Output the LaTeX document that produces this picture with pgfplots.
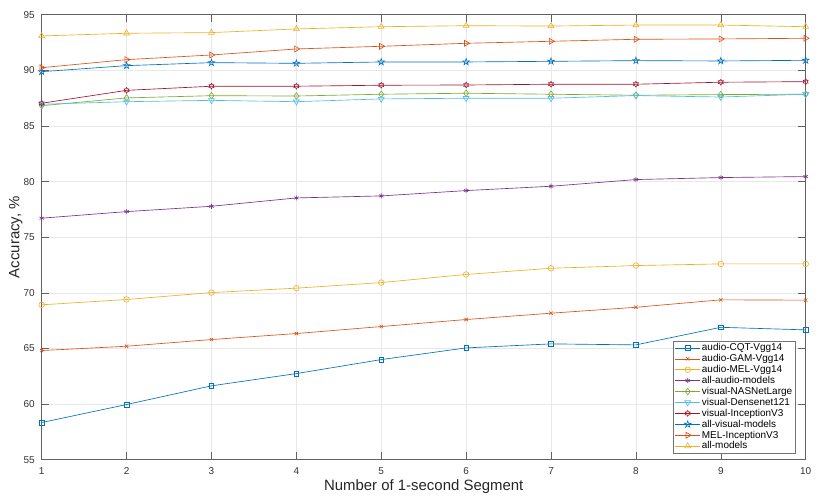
\documentclass[border=0pt]{standalone}
\usepackage{fontspec}
\setmainfont{Liberation Sans}
\usepackage{pgfplots}
\pgfplotsset{compat=1.18}
\usepackage{pgfplotstable}

\definecolor{c1}{rgb}{0,0.447,0.741}
\definecolor{c2}{rgb}{0.85,0.325,0.098}
\definecolor{c3}{rgb}{0.929,0.694,0.125}
\definecolor{c4}{rgb}{0.494,0.184,0.556}
\definecolor{c5}{rgb}{0.466,0.674,0.188}
\definecolor{c6}{rgb}{0.301,0.745,0.933}
\definecolor{c7}{rgb}{0.635,0.078,0.184}

\pgfdeclareplotmark{pentagram}{%
 \pgfpathmoveto{\pgfpointpolar{90}{1.25\pgfplotmarksize}}%
 \pgfpathlineto{\pgfpointpolar{126}{0.48\pgfplotmarksize}}%
 \pgfpathlineto{\pgfpointpolar{162}{1.25\pgfplotmarksize}}%
 \pgfpathlineto{\pgfpointpolar{198}{0.48\pgfplotmarksize}}%
 \pgfpathlineto{\pgfpointpolar{234}{1.25\pgfplotmarksize}}%
 \pgfpathlineto{\pgfpointpolar{270}{0.48\pgfplotmarksize}}%
 \pgfpathlineto{\pgfpointpolar{306}{1.25\pgfplotmarksize}}%
 \pgfpathlineto{\pgfpointpolar{342}{0.48\pgfplotmarksize}}%
 \pgfpathlineto{\pgfpointpolar{18}{1.25\pgfplotmarksize}}%
 \pgfpathlineto{\pgfpointpolar{54}{0.48\pgfplotmarksize}}%
 \pgfpathclose\pgfusepathqstroke}
\pgfdeclareplotmark{hexagram}{%
 \pgfpathmoveto{\pgfpointpolar{90}{1.1\pgfplotmarksize}}%
 \pgfpathlineto{\pgfpointpolar{120}{0.64\pgfplotmarksize}}%
 \pgfpathlineto{\pgfpointpolar{150}{1.1\pgfplotmarksize}}%
 \pgfpathlineto{\pgfpointpolar{180}{0.64\pgfplotmarksize}}%
 \pgfpathlineto{\pgfpointpolar{210}{1.1\pgfplotmarksize}}%
 \pgfpathlineto{\pgfpointpolar{240}{0.64\pgfplotmarksize}}%
 \pgfpathlineto{\pgfpointpolar{270}{1.1\pgfplotmarksize}}%
 \pgfpathlineto{\pgfpointpolar{300}{0.64\pgfplotmarksize}}%
 \pgfpathlineto{\pgfpointpolar{330}{1.1\pgfplotmarksize}}%
 \pgfpathlineto{\pgfpointpolar{0}{0.64\pgfplotmarksize}}%
 \pgfpathlineto{\pgfpointpolar{30}{1.1\pgfplotmarksize}}%
 \pgfpathlineto{\pgfpointpolar{60}{0.64\pgfplotmarksize}}%
 \pgfpathclose\pgfusepathqstroke}

\pgfplotstableread{
x   cqt   gam   mel   allaudio nas   dense inc   allvis melinc allm
1   58.34 64.81 68.92 76.71    86.82 86.95 87.04 89.88  90.24  93.09
2   59.96 65.20 69.40 77.30    87.52 87.18 88.20 90.42  90.96  93.33
3   61.64 65.80 70.02 77.78    87.72 87.30 88.57 90.69  91.38  93.39
4   62.74 66.34 70.42 78.53    87.69 87.18 88.57 90.63  91.92  93.72
5   64.00 66.97 70.92 78.71    87.85 87.43 88.66 90.75  92.16  93.92
6   65.05 67.60 71.65 79.19    87.94 87.49 88.68 90.75  92.43  94.01
7   65.41 68.17 72.21 79.58    87.85 87.49 88.75 90.81  92.61  93.98
8   65.32 68.70 72.45 80.18    87.76 87.73 88.75 90.87  92.79  94.07
9   66.90 69.37 72.60 80.36    87.82 87.60 88.93 90.84  92.82  94.07
10  66.67 69.34 72.60 80.45    87.85 87.85 88.98 90.90  92.88  93.92
}\datatable

\begin{document}
\begin{tikzpicture}
\begin{axis}[
  at={(0,0)}, anchor=south west,
  width=764bp, height=445bp, scale only axis,
  xmin=1, xmax=10, ymin=55, ymax=95,
  xtick={1,2,...,10}, ytick={55,60,...,95},
  grid=major,
  major grid style={black!9, line width=0.5bp},
  axis line style={black!62, line width=0.6bp},
  tick style={black!62, line width=0.6bp},
  major tick length=7.6bp,
  tick align=inside,
  tick pos=both,
  /pgf/number format/assume math mode=true,
  tick label style={font=\fontsize{10}{12}\selectfont, text=black!80},
  yticklabel style={xshift=-3.4bp},
  xticklabel style={yshift=-4bp},
  xlabel={Number of 1-second Segment},
  ylabel={Accuracy, \%},
  every axis x label/.style={at={(axis description cs:0.5,0)}, anchor=base, yshift=-31bp, font=\fontsize{15}{18}\selectfont, text=black!85},
  every axis y label/.style={at={(axis description cs:0,0.5)}, xshift=-22.4bp, rotate=90, anchor=base, font=\fontsize{15}{18}\selectfont, text=black!85},
  legend cell align=left,
  legend style={at={(0.986,0.0144)}, anchor=south east,
    font=\fontsize{10}{11}\selectfont, draw=black!55, fill=white,
    inner sep=1.2bp, row sep=-0.6bp, nodes={inner sep=1.4bp}},
  legend image code/.code={\draw[mark repeat=2,mark phase=2] plot coordinates {(0bp,0bp) (12.5bp,0bp) (25bp,0bp)};},
  every axis plot/.append style={line width=0.65bp, mark size=2.8bp, mark options={solid, line width=0.6bp, fill=none}},
]
\addplot[c1, mark=square, mark size=2.3bp] table[x=x, y=cqt] {\datatable};
\addlegendentry{audio-CQT-Vgg14}
\addplot[c2, mark=x, mark size=2.4bp] table[x=x, y=gam] {\datatable};
\addlegendentry{audio-GAM-Vgg14}
\addplot[c3, mark=o] table[x=x, y=mel] {\datatable};
\addlegendentry{audio-MEL-Vgg14}
\addplot[c4, mark=asterisk, mark size=2.5bp] table[x=x, y=allaudio] {\datatable};
\addlegendentry{all-audio-models}
\addplot[c5, mark=diamond, mark size=3.3bp] table[x=x, y=nas] {\datatable};
\addlegendentry{visual-NASNetLarge}
\addplot[c6, mark=triangle, mark size=3.4bp, mark options={rotate=180}] table[x=x, y=dense] {\datatable};
\addlegendentry{visual-Densenet121}
\addplot[c7, mark=hexagram, mark size=2.6bp] table[x=x, y=inc] {\datatable};
\addlegendentry{visual-InceptionV3}
\addplot[c1, mark=pentagram, mark size=2.8bp] table[x=x, y=allvis] {\datatable};
\addlegendentry{all-visual-models}
\addplot[c2, mark=triangle, mark size=3.4bp, mark options={rotate=-90}] table[x=x, y=melinc] {\datatable};
\addlegendentry{MEL-InceptionV3}
\addplot[c3, mark=triangle, mark size=3.4bp] table[x=x, y=allm] {\datatable};
\addlegendentry{all-models}
\end{axis}
\pgfresetboundingbox
\path (-41.7bp,-40.3bp) rectangle (788.3bp,459.7bp);
\end{tikzpicture}
\end{document}
